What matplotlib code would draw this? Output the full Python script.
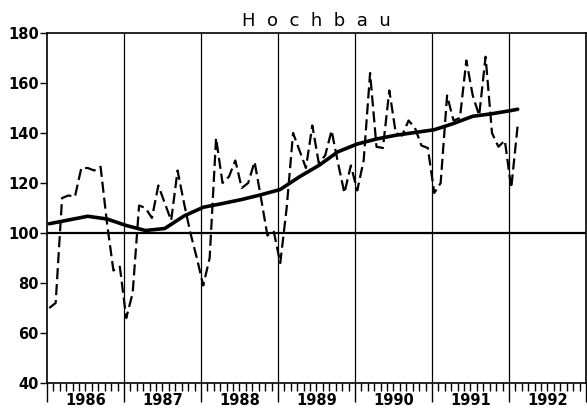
import matplotlib
matplotlib.use("Agg")
import matplotlib.pyplot as plt
import numpy as np

title = "H  o  c  h  b  a  u"
start_year = 1986

# Monthly index values, Jan 1986 - Feb 1992
index_values = [
    70, 72, 114, 115, 114.5, 126, 126, 125, 126.5, 104, 85, 86.5,      # 1986
    66, 76, 111, 110, 106, 119, 112, 105, 125, 112, 100, 90,           # 1987
    79, 90, 138, 120, 122.5, 129, 118, 120, 128.5, 114, 99, 100.5,     # 1988
    88, 110, 140, 133, 126, 143, 128, 131, 141, 128, 116, 127,         # 1989
    117, 129, 164, 134.5, 134, 157, 140, 139, 145, 142, 135, 134,      # 1990
    116, 120, 155, 145, 146, 169, 155, 147, 170.5, 140, 134.5, 137,    # 1991
    118, 143,                                                          # 1992
]

# Smooth trend, read at quarterly month indices
trend_months = [0, 3, 6, 9, 12, 15, 18, 21, 24, 27, 30, 33, 36, 39, 42, 45,
                48, 51, 54, 57, 60, 63, 66, 69, 72, 73]
trend_values = [103.7, 105.2, 106.7, 105.6, 103.0, 101.0, 101.8, 106.8, 110.3,
                111.8, 113.4, 115.3, 117.4, 122.5, 127.0, 132.5, 135.6, 137.6,
                139.1, 140.2, 141.3, 143.8, 146.7, 147.7, 149.0, 149.5]

year_labels = ["1986", "1987", "1988", "1989", "1990", "1991", "1992"]
y_ticks = [40, 60, 80, 100, 120, 140, 160, 180]

months = np.arange(len(index_values))
x_idx = start_year + (months + 0.35) / 12.0
x_tr = start_year + (np.array(trend_months) + 0.35) / 12.0

fig = plt.figure(figsize=(5.87, 4.13), dpi=100)
ax = fig.add_axes([47 / 587, 30 / 413, 539 / 587, 350 / 413])

ax.set_xlim(1986, 1993)
ax.set_ylim(40, 180)

# year separators and reference line
for yr in range(1987, 1993):
    ax.axvline(yr, color="black", lw=0.9, zorder=1)
ax.axhline(100, color="black", lw=1.6, zorder=1)

ax.plot(x_idx, index_values, color="black", lw=1.6,
        linestyle=(0, (5, 2.2)), zorder=3)
ax.plot(x_tr, trend_values, color="black", lw=2.6, zorder=4,
        solid_capstyle="round", solid_joinstyle="round")

# y axis
ax.set_yticks(y_ticks)
ax.set_yticklabels([str(v) for v in y_ticks], fontsize=10.5, fontweight="bold",
                   family="DejaVu Sans")
ax.tick_params(axis="y", direction="out", length=5, width=1, pad=1)

# x axis: year boundaries major, months minor, labels centered in year
ax.set_xticks(np.arange(1986, 1994))
ax.set_xticklabels([""] * 8)
ax.set_xticks(np.arange(1986, 1993, 1 / 12.0), minor=True)
ax.tick_params(axis="x", which="major", direction="out", length=14, width=1)
ax.tick_params(axis="x", which="minor", direction="out", length=6, width=1)
for i, lab in enumerate(year_labels):
    ax.text(1986.5 + i, -0.05, lab, transform=ax.get_xaxis_transform(),
            ha="center", va="center", fontsize=10.5, fontweight="bold")

for s in ax.spines.values():
    s.set_linewidth(1.2)

ax.text(0.5, 1.008, title, transform=ax.transAxes, ha="center", va="bottom",
        fontsize=13)

fig.savefig("out.png", dpi=100)
